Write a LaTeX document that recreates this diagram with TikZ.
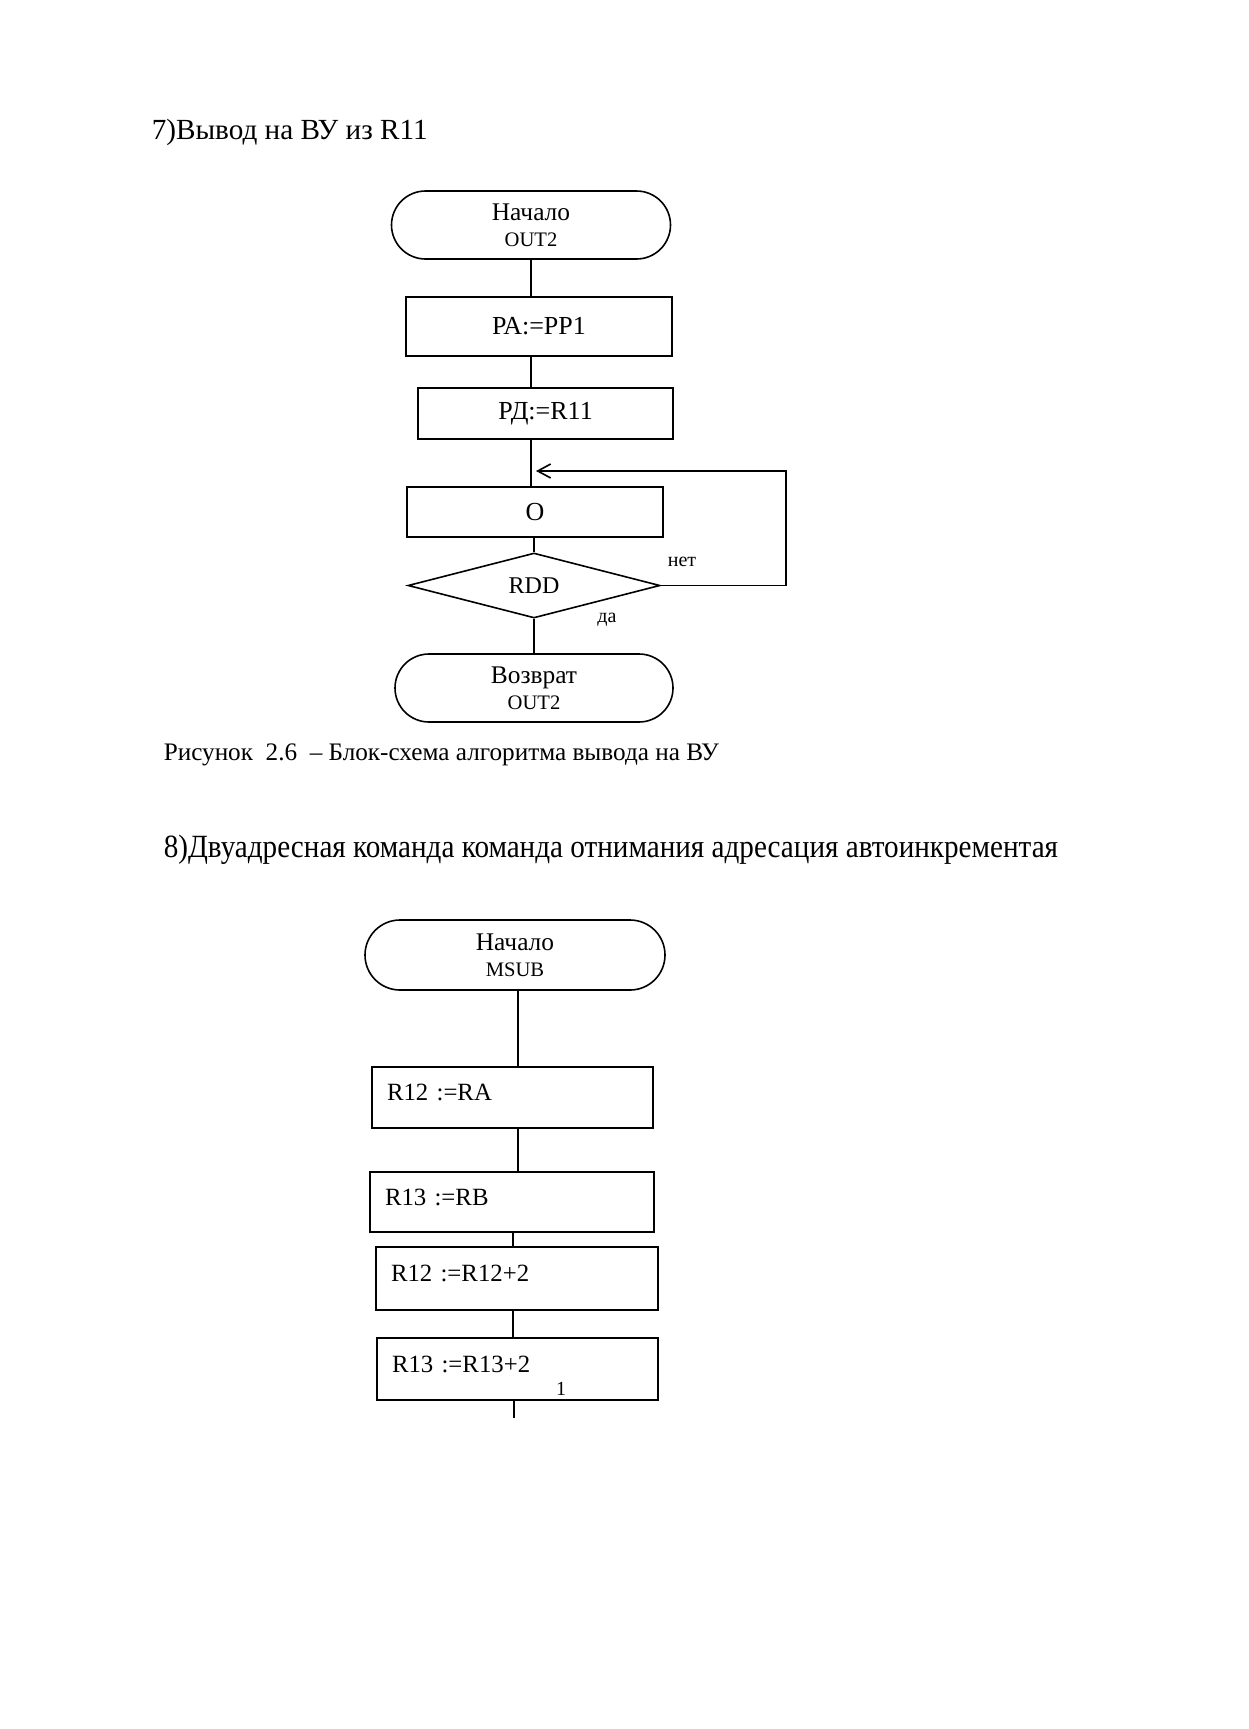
\documentclass[tikz,border=0pt]{standalone}
\usepackage{fontspec}
\setmainfont{Liberation Serif}
\usetikzlibrary{shapes.geometric,shapes.misc,arrows.meta}
\begin{document}
\begin{tikzpicture}[x=0.5pt,y=-0.5pt,
		line width=0.8pt,
		terminal/.style={draw, rounded rectangle, inner sep=0pt, align=center,
			font=\fontsize{12.7}{13}\selectfont},
		opbox/.style={draw, rectangle, inner sep=0pt, font=\fontsize{13}{14}\selectfont},
		leftbox/.style={draw, rectangle, inner xsep=7.5pt, inner ysep=0pt, align=left,
			text depth=5pt, font=\fontsize{12.4}{14}\selectfont},
		decision/.style={draw, diamond, inner sep=0pt, aspect=3.9, font=\fontsize{12}{13}\selectfont},
		answer/.style={font=\fontsize{10}{12}\selectfont},
		heading/.style={anchor=west, inner sep=0pt}
	]
	\def\subname#1{{\fontsize{10.3}{13}\selectfont #1}}
	\useasboundingbox[fill=white] (0,0) rectangle (1248,1729);

	% 7) output to the device
	\node[heading, font=\fontsize{14.6}{16}\selectfont] (title7) at (151,132) {7)Вывод на ВУ из R11};
	\coordinate (t0) at (531,0);
	\node[terminal, minimum width=139.5pt, minimum height=34pt] (start1) at (531,225) {Начало\\\subname{OUT2}};
	\node[opbox, minimum width=133pt, minimum height=29.5pt] (pa) at (539,326.5) {РА:=РР1};
	\node[opbox, minimum width=127.5pt, minimum height=25.5pt] (rd) at (545.5,413.5) {РД:=R11};
	\node[opbox, minimum width=128pt, minimum height=25pt] (o) at (535,512) {O};
	\node[decision, minimum width=126pt, minimum height=32.5pt] (rdd) at (534,585.5) {RDD};
	\node[terminal, minimum width=139pt, minimum height=34pt] (end1) at (534,688) {Возврат\\\subname{OUT2}};
	\node[answer] (no) at (682,562) {нет};
	\node[answer] (yes) at (607,620) {да};
	\coordinate (loop) at (786,471);

	\draw (start1.south -| t0) -- (pa.north -| t0);
	\draw (pa.south -| t0) -- (rd.north -| t0);
	\draw (rd.south -| t0) -- (o.north -| t0);
	\draw (o.south -| rdd.north) -- (rdd.north);
	\draw (rdd.south) -- (end1.north -| rdd.south);
	\draw[-{Straight Barb[length=6.5pt,width=7pt]}, shorten >=2.5pt] (rdd.east) -| (loop) -- (loop -| t0);

	\node[heading, font=\fontsize{12.6}{14}\selectfont] (caption) at (163,755) {Рисунок~~2.6~~– Блок-схема алгоритма вывода на ВУ};

	% 8) two-address subtraction, autoincrement
	\node[heading, font=\fontsize{16.2}{18}\selectfont] (title8) at (163,850) {\scalebox{0.9}[1]{8)Двуадресная команда команда отнимания адресация автоинкрементая}};
	\coordinate (t1) at (518,0);
	\coordinate (t2) at (513,0);
	\node[terminal, minimum width=150pt, minimum height=35pt] (start2) at (515,955) {Начало\\\subname{MSUB}};
	\node[leftbox, minimum height=30.5pt, text width=125.5pt] (r12ra) at (512.5,1097.5) {R12 :=RA};
	\node[leftbox, minimum height=30pt, text width=127pt] (r13rb) at (512,1202) {R13 :=RB};
	\node[leftbox, minimum height=31.5pt, text width=126pt] (r12inc) at (517,1278.5) {R12 :=R12+2};
	\node[leftbox, minimum height=31pt, text width=125.5pt] (r13inc) at (517.5,1369) {R13 :=R13+2};
	\node[answer] (one) at (561,1389) {1};
	\coordinate (tail) at (514,1418);

	\draw (start2.south -| t1) -- (r12ra.north -| t1);
	\draw (r12ra.south -| t1) -- (r13rb.north -| t1);
	\draw (r13rb.south -| t2) -- (r12inc.north -| t2);
	\draw (r12inc.south -| t2) -- (r13inc.north -| t2);
	\draw (r13inc.south -| tail) -- (tail);
\end{tikzpicture}
\end{document}
